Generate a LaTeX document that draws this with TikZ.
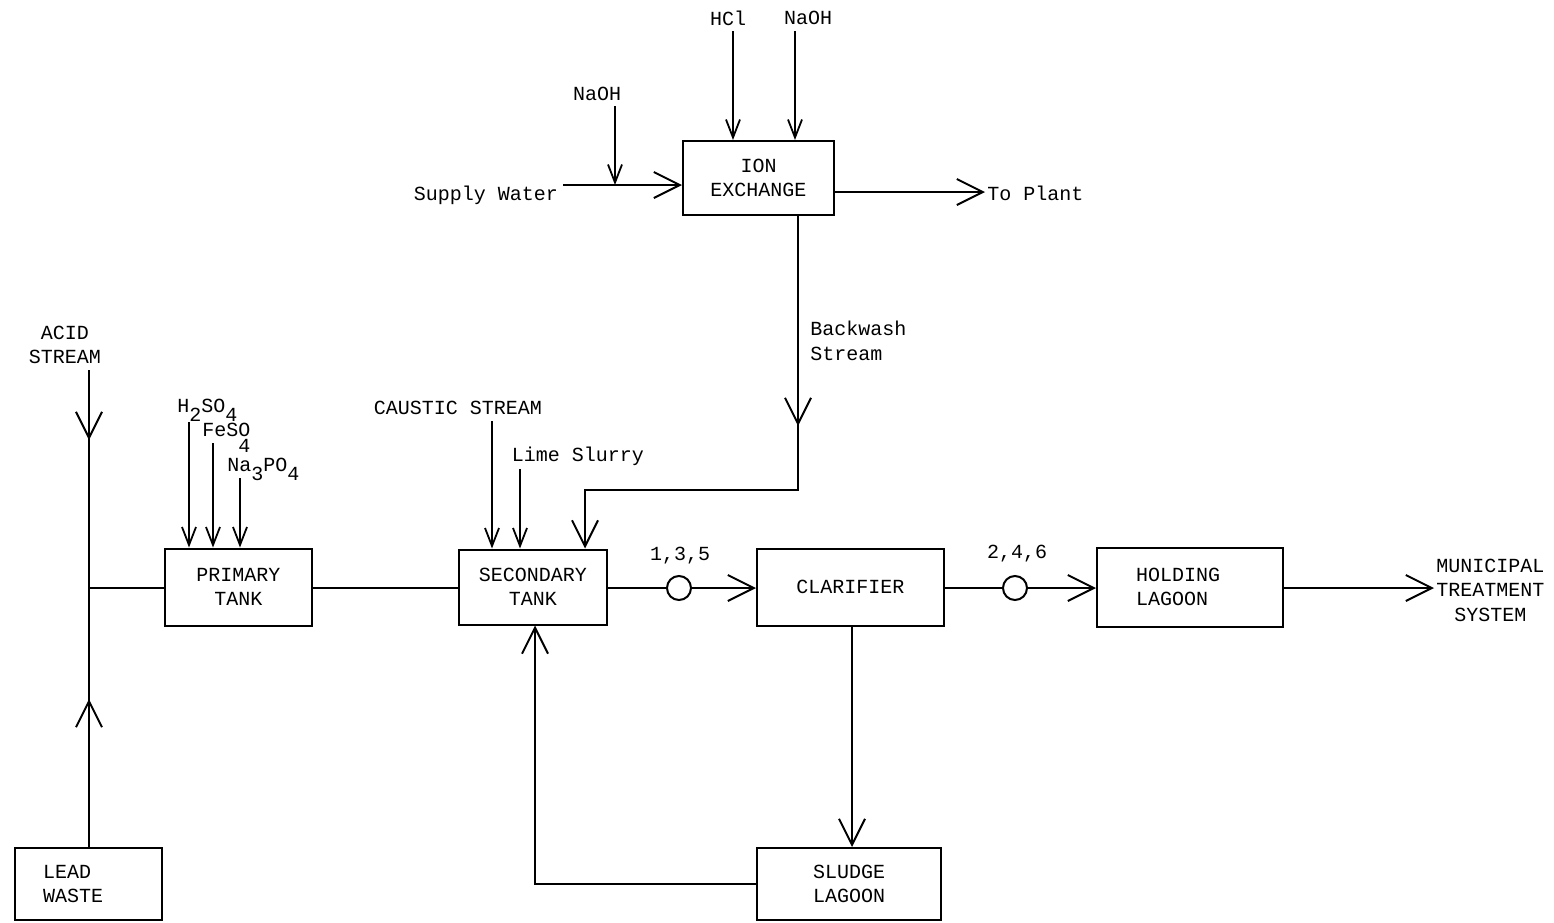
\documentclass[tikz,border=0pt]{standalone}
\usepackage{fontspec}
\setmainfont{Liberation Mono}
\usetikzlibrary{arrows.meta,decorations.markings,calc}
\newcommand{\lowr}[1]{\raisebox{-4.5pt}{#1}}
\tikzset{
  BigV/.tip={Straight Barb[length=13pt,width=13pt]},
  SmallV/.tip={Straight Barb[length=9pt,width=7pt]},
  pipe/.style={line width=1pt},
  flow/.style={line width=1pt,-{BigV}},
  feed/.style={line width=0.9pt,-{SmallV}},
  box/.style={draw,line width=1pt,align=center,inner sep=0pt},
  lbl/.style={inner sep=1pt,align=center},
  chem/.style={inner sep=0pt,anchor=base west},
  valve/.style={draw,circle,line width=1pt,minimum size=12pt,inner sep=0pt},
  midarr/.style={postaction={decorate,decoration={markings,mark=at position #1 with {\arrow{BigV}}}}}
}
\begin{document}
\begin{tikzpicture}[x=0.5pt,y=-0.5pt,font=\fontsize{10}{12.3}\selectfont]
\useasboundingbox (0,0) rectangle (1554,922);
% boxes
\node[box,minimum width=75.5pt,minimum height=37pt] (ion) at (758.5,178) {ION\\EXCHANGE};
\node[box,minimum width=73.5pt,minimum height=38.5pt] (prim) at (238.5,587) {PRIMARY\\TANK};
\node[box,minimum width=74pt,minimum height=37.5pt] (sec) at (533,587) {SECONDARY\\TANK};
\node[box,minimum width=93.5pt,minimum height=38.5pt] (clar) at (850.5,587) {CLARIFIER};
\node[box,minimum height=39.5pt,align=left,inner xsep=19.5pt,text width=54pt] (hold) at (1190,587) {HOLDING\\LAGOON};
\node[box,minimum width=92pt,minimum height=36pt] (sludge) at (849,884) {SLUDGE\\LAGOON};
\node[box,minimum height=36pt,align=left,inner xsep=14pt,text width=45.5pt] (lead) at (88.5,884) {LEAD\\WASTE};
% valves
\node[valve] (v1) at (679,588) {};
\node[valve] (v2) at (1015,588) {};
% labels
\node[lbl] (hcl) at (728,18) {HCl};
\node[lbl] (naohT) at (808,18) {NaOH};
\node[lbl] (naohL) at (597,94) {NaOH};
\node[lbl] (supply) at (486,195) {Supply Water};
\node[lbl,anchor=west] (plant) at (985,193) {To Plant};
\node[lbl,anchor=west,align=left] (bwl) at (808,341) {Backwash\\Stream};
\node[lbl] (acid) at (65,345) {ACID\\STREAM};
\node[chem] (h2so4) at (177,412) {H\lowr{2}SO\lowr{4}};
\node[chem] (feso4) at (202,436) {FeSO\llap{\smash{\raisebox{-8pt}{4}}}};
\node[chem] (na3po4) at (227,471) {Na\lowr{3}PO\lowr{4}};
\node[lbl] (caustic) at (458,408) {CAUSTIC STREAM};
\node[lbl] (lime) at (578,456) {Lime Slurry};
\node[lbl] (l135) at (680,556) {1,3,5};
\node[lbl] (l246) at (1017,554) {2,4,6};
\node[lbl,anchor=west] (muni) at (1434,590) {MUNICIPAL\\TREATMENT\\SYSTEM};
% coordinates
\coordinate (sw) at (563,185);
\coordinate (naohX) at (615,106);
\coordinate (hclX) at (733,31);
\coordinate (naohTX) at (795,31);
\coordinate (tp) at ($(ion.east)+(0,14)$);
\coordinate (bw) at (798,490);
\coordinate (bwin) at (585,490);
\coordinate (csX) at (492,421);
\coordinate (limeX) at (520,469);
\coordinate (h2X) at (189,422);
\coordinate (feX) at (213,443);
\coordinate (naX) at (240,478);
\coordinate (acidtop) at (89,370);
\coordinate (junc) at (89,588);
\coordinate (ret) at (535,884);
\coordinate (cd) at (852,884);
% top section
\draw[flow] (sw) -- (sw -| ion.west);
\draw[feed] (naohX) -- (naohX |- sw);
\draw[feed] (hclX) -- (hclX |- ion.north);
\draw[feed] (naohTX) -- (naohTX |- ion.north);
\draw[flow] (tp) -- (tp -| plant.west);
\draw[flow,midarr=105pt] (bw |- ion.south) -- (bw) -- (bwin) -- (bwin |- sec.north);
% chemical feeds
\draw[feed] (csX) -- (csX |- sec.north);
\draw[feed] (limeX) -- (limeX |- sec.north);
\draw[feed] (h2X) -- (h2X |- prim.north);
\draw[feed] (feX) -- (feX |- prim.north);
\draw[feed] (naX) -- (naX |- prim.north);
% acid stream and lead waste
\draw[pipe,midarr=35pt] (acidtop) -- (junc);
\draw[pipe,midarr=74pt] (lead.north -| junc) -- (junc);
\draw[pipe] (junc) -- (junc -| prim.west);
% main line
\draw[pipe] (prim.east |- junc) -- (sec.west |- junc);
\draw[pipe] (sec.east |- v1) -- (v1);
\draw[flow] (v1) -- (v1 -| clar.west);
\draw[pipe] (clar.east |- v2) -- (v2);
\draw[flow] (v2) -- (v2 -| hold.west);
\draw[flow] (hold.east |- v2) -- (muni.west |- v2);
% sludge
\draw[flow] (cd |- clar.south) -- (cd |- sludge.north);
\draw[flow] (sludge.west) -- (ret) -- (ret |- sec.south);
\end{tikzpicture}
\end{document}
